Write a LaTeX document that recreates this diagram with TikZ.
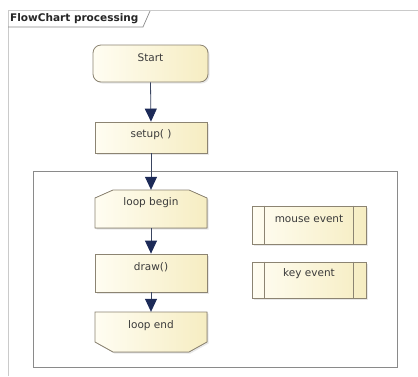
\documentclass[tikz,border=0pt]{standalone}
\usepackage{fontspec}
\setmainfont{DejaVu Sans}
\usetikzlibrary{arrows.meta,calc,shadows}
\definecolor{boxborder}{HTML}{8C8472}
\definecolor{fillL}{HTML}{FFFDF2}
\definecolor{fillR}{HTML}{F6EDC2}
\definecolor{arrowc}{HTML}{1C2A58}
\definecolor{linec}{HTML}{3A4560}
\definecolor{framec}{HTML}{8A8A8A}
\definecolor{txt}{HTML}{3A3A3A}
\tikzset{
  boxfill/.style={draw=boxborder, line width=0.8pt, left color=fillL, right color=fillR,
    drop shadow={opacity=0.18, shadow xshift=1.5pt, shadow yshift=-1.5pt}},
  lbl/.style={font=\fontsize{10.5}{12}\selectfont, text=txt, inner sep=0pt, yshift=6pt},
  boxnode/.style={rectangle, inner sep=0pt, minimum width=112pt},
  flow/.style={draw=linec, line width=0.8pt, -{Triangle[length=13pt,width=12pt,color=arrowc]}},
}
\begin{document}
\begin{tikzpicture}[x=1pt,y=-1pt]
\useasboundingbox (0,0) rectangle (418,376);
\fill[white] (0,0) rectangle (418,376);
% UML frame
\draw[framec!45, line width=0.6pt] (8,376) -- (8,10) -- (418,10);
\draw[framec, line width=0.7pt] (8,27) -- (143,27) -- (150,11);
\node[anchor=west, inner sep=0pt, font=\bfseries\fontsize{10.5}{12}\selectfont, text=black!85] (title) at (10,19) {FlowChart processing};
% loop frame
\node[draw=framec, line width=0.8pt, minimum width=364pt, minimum height=196pt, inner sep=0pt] (loopframe) at (215,269) {};
% Start
\node[boxnode, boxfill, rounded corners=8pt, minimum width=115pt, minimum height=37pt, label={[lbl]center:Start}] (start) at (150.5,63.5) {};
% setup
\node[boxnode, boxfill, minimum height=31pt, label={[lbl, yshift=-3pt]center:setup( )}] (setup) at (151,137.5) {};
% loop begin
\filldraw[boxfill] (95,228) -- (95,198) -- (113,190) -- (189,190) -- (207,198) -- (207,228) -- cycle;
\node[boxnode, minimum height=38pt, label={[lbl]center:loop begin}] (lbegin) at (151,209) {};
% draw()
\node[boxnode, boxfill, minimum height=38pt, label={[lbl]center:draw()}] (drawn) at (151,273) {};
% loop end
\filldraw[boxfill] (95,312) -- (207,312) -- (207,342) -- (189,352) -- (113,352) -- (95,342) -- cycle;
\node[boxnode, minimum height=40pt, label={[lbl]center:loop end}] (lend) at (151,332) {};
% mouse event
\node[boxnode, boxfill, minimum width=114pt, minimum height=38pt, label={[lbl]center:mouse event}] (mouse) at (309,225) {};
\draw[boxborder, line width=0.8pt] ($(mouse.north west)+(13,0)$) -- ($(mouse.south west)+(13,0)$);
\draw[boxborder, line width=0.8pt] ($(mouse.north east)+(-13,0)$) -- ($(mouse.south east)+(-13,0)$);
% key event
\node[boxnode, boxfill, minimum width=114pt, minimum height=36pt, label={[lbl]center:key event}] (key) at (309,280) {};
\draw[boxborder, line width=0.8pt] ($(key.north west)+(13,0)$) -- ($(key.south west)+(13,0)$);
\draw[boxborder, line width=0.8pt] ($(key.north east)+(-13,0)$) -- ($(key.south east)+(-13,0)$);
% connectors
\draw[flow] (start.south) -- (setup.north);
\draw[flow] (setup.south) -- (lbegin.north);
\draw[flow] (lbegin.south) -- (drawn.north);
\draw[flow] (drawn.south) -- (lend.north);
\end{tikzpicture}
\end{document}
